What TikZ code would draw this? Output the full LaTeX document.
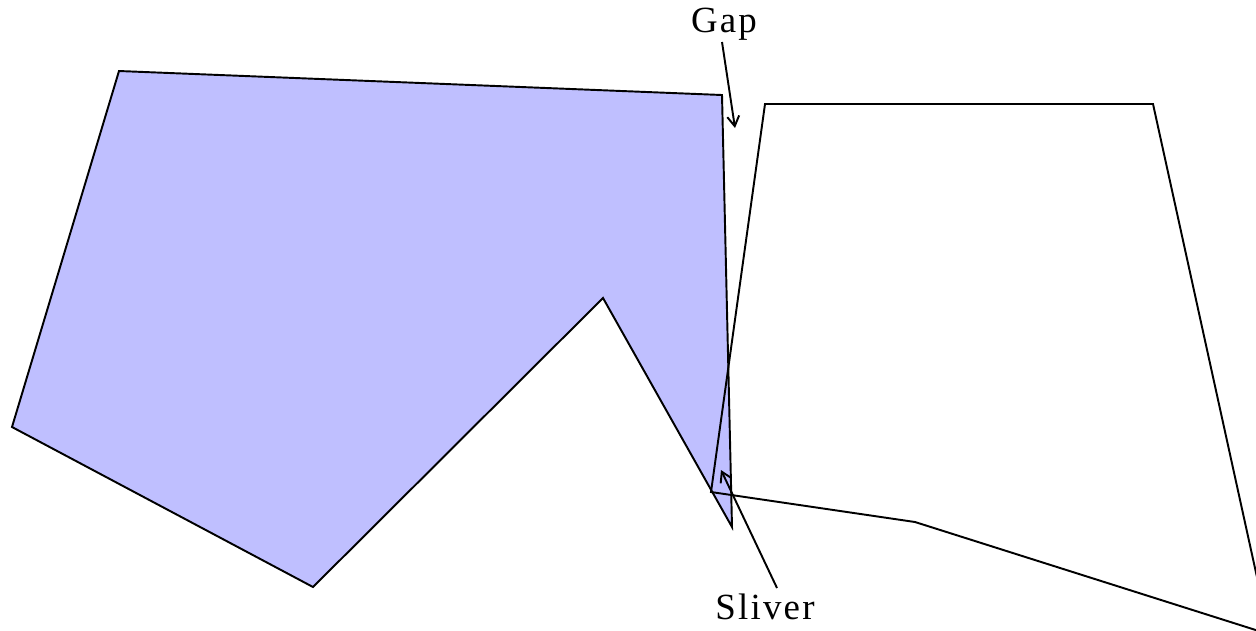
\documentclass[tikz,border=0pt]{standalone}
\usepackage{fontspec}
\setmainfont{Liberation Serif}
\usetikzlibrary{arrows.meta}
\definecolor{lilac}{HTML}{BFBFFF}
\tikzset{
  edge/.style={draw=black,line width=1.1pt,line join=miter},
  pointer/.style={-{Straight Barb[length=2mm,width=2.4mm]},line width=1.1pt},
  tag/.style={font=\fontsize{21}{23}\selectfont\addfontfeature{LetterSpace=6},inner sep=0pt},
}
\begin{document}
\begin{tikzpicture}[x=0.02cm,y=-0.02cm]
\useasboundingbox (0,0) rectangle (1256,630);
% shaded polygon
\filldraw[edge,fill=lilac] (119,71) -- (722,95) -- (732,527) -- (603,298) -- (313,587) -- (12,427) -- cycle;
% open polygon, cut by the frame
\begin{scope}
\clip (0,0) rectangle (1256,630);
\draw[edge] (711,492) -- (765,104) -- (1153,104) -- (1262,600) -- (1262,632) -- (915,522) -- cycle;
\end{scope}
% labels
\node[tag] (gap) at (724,24) {Gap};
\node[tag] (sliver) at (765,607) {Sliver};
\coordinate (gaptip) at (735,128);
\coordinate (slivertip) at (721,470);
\draw[pointer] (722,42) -- (gaptip);
\draw[pointer] (777,588) -- (slivertip);
\end{tikzpicture}
\end{document}
